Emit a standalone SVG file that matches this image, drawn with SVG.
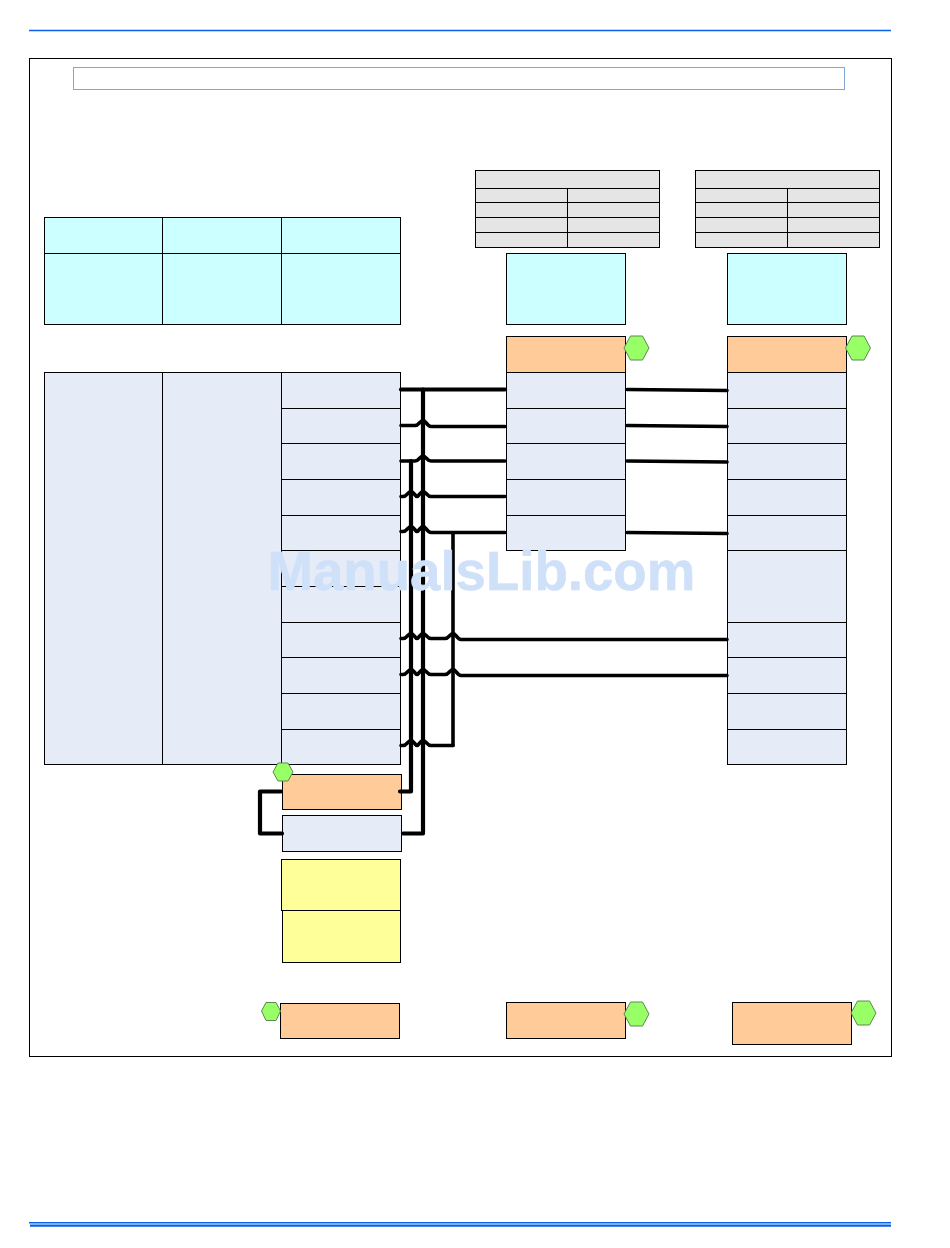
<svg xmlns="http://www.w3.org/2000/svg" width="950" height="1248" viewBox="0 0 950 1248">
<style>
.b{stroke:#000;stroke-width:1;}
.grey{fill:#e5e5e5}.cyan{fill:#ccffff}.blue{fill:#e6ecf7}.orange{fill:#ffcc99}.yellow{fill:#ffff99}
.hex{fill:#99ff66;stroke:#5a8a50;stroke-width:1}
.c{fill:none;stroke:#000;stroke-linejoin:round;stroke-linecap:round;stroke-width:3.6}
.t{stroke-width:4.2}
.rule{stroke:#0a5fe8;fill:none}
.wm{font-family:"Liberation Sans",Arial,sans-serif;font-weight:bold;font-size:54.6px;fill:#cfe0f9;stroke:#cfe0f9;stroke-width:.6}
</style>
<rect width="950" height="1248" fill="#fff"/>
<g id="page-rules">
<line class="rule" x1="29" y1="30.5" x2="891" y2="30.5" stroke-width="1.3"/>
<line class="rule" x1="29" y1="1222.7" x2="891" y2="1222.7" stroke-width="1.5"/>
<line class="rule" x1="30" y1="1225.7" x2="891" y2="1225.7" stroke-width="2.2"/>
</g>
<g id="frame"><rect x="29.5" y="58.5" width="862" height="998" fill="#fff" stroke="#000" stroke-width="1"/></g>
<g id="title"><rect x="73.500" y="67.500" width="771" height="22" fill="#fff" stroke="#7fa6d8" stroke-width="1"/></g>

<g id="table-left" class="b">
<rect class="grey" x="475.5" y="170.5" width="184" height="77"/>
<path d="M475.5 188.5H659.5M475.5 202.5H659.5M475.5 217.5H659.5M475.5 232.5H659.5M567.5 188.5V247.5" fill="none"/>
</g>
<g id="table-right" class="b">
<rect class="grey" x="695.5" y="170.5" width="184" height="77"/>
<path d="M695.5 188.5H879.5M695.5 202.5H879.5M695.5 217.5H879.5M695.5 232.5H879.5M787.5 188.5V247.5" fill="none"/>
</g>

<g id="cyan-grid" class="b">
<rect class="cyan" x="44.5" y="217.5" width="356" height="107"/>
<path d="M44.5 253.5H400.5M162.5 217.5V324.5M281.5 217.5V324.5" fill="none"/>
</g>
<g id="cyan-mid" class="b"><rect class="cyan" x="506.5" y="253.5" width="119" height="71"/></g>
<g id="cyan-right" class="b"><rect class="cyan" x="727.5" y="253.5" width="119" height="71"/></g>

<g id="main-left" class="b">
<rect class="blue" x="44.5" y="372.5" width="118" height="392"/>
<rect class="blue" x="162.5" y="372.5" width="119" height="392"/>
<rect class="blue" x="281.5" y="372.5" width="119" height="392"/>
<path d="M281.5 408.5H400.5M281.5 443.5H400.5M281.5 479.5H400.5M281.5 515.5H400.5M281.5 550.5H400.5M281.5 586.5H400.5M281.5 622.5H400.5M281.5 657.5H400.5M281.5 693.5H400.5M281.5 729.5H400.5" fill="none"/>
</g>
<g id="main-mid" class="b">
<rect class="orange" x="506.5" y="336.5" width="119" height="36"/>
<rect class="blue" x="506.5" y="372.5" width="119" height="178"/>
<path d="M506.5 408.5H625.5M506.5 443.5H625.5M506.5 479.5H625.5M506.5 515.5H625.5" fill="none"/>
</g>
<g id="main-right" class="b">
<rect class="orange" x="727.5" y="336.5" width="119" height="36"/>
<rect class="blue" x="727.5" y="372.5" width="119" height="392"/>
<path d="M727.5 408.5H846.5M727.5 443.5H846.5M727.5 479.5H846.5M727.5 515.5H846.5M727.5 550.5H846.5M727.5 622.5H846.5M727.5 657.5H846.5M727.5 693.5H846.5M727.5 729.5H846.5" fill="none"/>
</g>
<g id="orange-small" class="b"><rect class="orange" x="282.5" y="774.5" width="119" height="35"/></g>
<g id="blue-small" class="b"><rect class="blue" x="282.5" y="815.5" width="119" height="36"/></g>
<g id="yellow-top" class="b"><rect class="yellow" x="281.5" y="859.5" width="119" height="51"/></g>
<g id="yellow-bottom" class="b"><rect class="yellow" x="282.5" y="910.5" width="118" height="52"/></g>
<g id="bottom-left" class="b"><rect class="orange" x="280.5" y="1003.5" width="119" height="35"/></g>
<g id="bottom-mid" class="b"><rect class="orange" x="506.5" y="1002.5" width="119" height="36"/></g>
<g id="bottom-right" class="b"><rect class="orange" x="732.5" y="1002.5" width="119" height="42"/></g>

<g id="connectors">
<path class="c t" d="M401 389.5H505"/>
<path class="c t" d="M423 389.5V833.5H403"/>
<path class="c t" d="M400 791.5H411V461"/>
<path class="c" d="M401 461H415C419 461 420 456 423 456C426 456 427 461 431 461H505"/>
<path class="c" d="M401 425.500H415C419 425.500 420 420.500 423 420.500C426 420.500 427 426.500 431 426.500H505"/>
<path class="c" d="M401 496.500H403C407 496.500 408 491.500 411 491.500C414 491.500 415 496.500 417 496.500C419 496.500 420 491.500 423 491.500C426 491.500 427 496.500 431 496.500H505"/>
<path class="c" d="M401 531.500H403C407 531.500 408 526.500 411 526.500C414 526.500 415 531.500 417 531.500C419 531.500 420 526.500 423 526.500C426 526.500 427 532.500 431 532.500H505"/>
<path class="c" d="M453 533V745.500"/>
<path class="c" d="M401 638.500H403C407 638.500 408 633.500 411 633.500C414 633.500 415 638.500 417 638.500C419 638.500 420 633.500 423 633.500C426 633.500 427 638.500 431 638.500H445C449 638.500 450 633.500 453 633.500C456 633.500 457 639.500 461 639.500H727"/>
<path class="c" d="M401 674.500H403C407 674.500 408 669.500 411 669.500C414 669.500 415 674.500 417 674.500C419 674.500 420 669.500 423 669.500C426 669.500 427 674.500 431 674.500H445C449 674.500 450 669.500 453 669.500C456 669.500 457 675.500 461 675.500H727"/>
<path class="c" d="M401 745.500H403C407 745.500 408 740.500 411 740.500C414 740.500 415 745.500 417 745.500C419 745.500 420 740.500 423 740.500C426 740.500 427 745.500 431 745.500H453"/>
<path class="c" d="M627 389.500L727 390.500"/>
<path class="c" d="M627 425.500L727 426.500"/>
<path class="c" d="M627 461L727 462"/>
<path class="c" d="M627 532.500L727 533.500"/>
<path class="c t" d="M281 791.500H260V833.500H282"/>
</g>

<g id="hex-mid"><polygon class="hex" points="624,348 630.500,336 642.500,336 649,348 642.500,360 630.500,360"/></g>
<g id="hex-right"><polygon class="hex" points="845.500,348 852,336 864,336 870.500,348 864,360 852,360"/></g>
<g id="hex-small"><polygon class="hex" points="273,772 278,763 288,763 293,772 288,781 278,781"/></g>
<g id="hex-bottom-left"><polygon class="hex" points="261.500,1011 266,1002.500 276,1002.500 280.500,1011 276,1020.500 266,1020.500"/></g>
<g id="hex-bottom-mid"><polygon class="hex" points="624,1014 630.500,1002 642.500,1002 649,1014 642.500,1026 630.500,1026"/></g>
<g id="hex-bottom-right"><polygon class="hex" points="851,1013 857.500,1001 869.500,1001 876,1013 869.500,1025 857.500,1025"/></g>

<text class="wm" x="267.500" y="589.500">ManualsLib.com</text>
</svg>
